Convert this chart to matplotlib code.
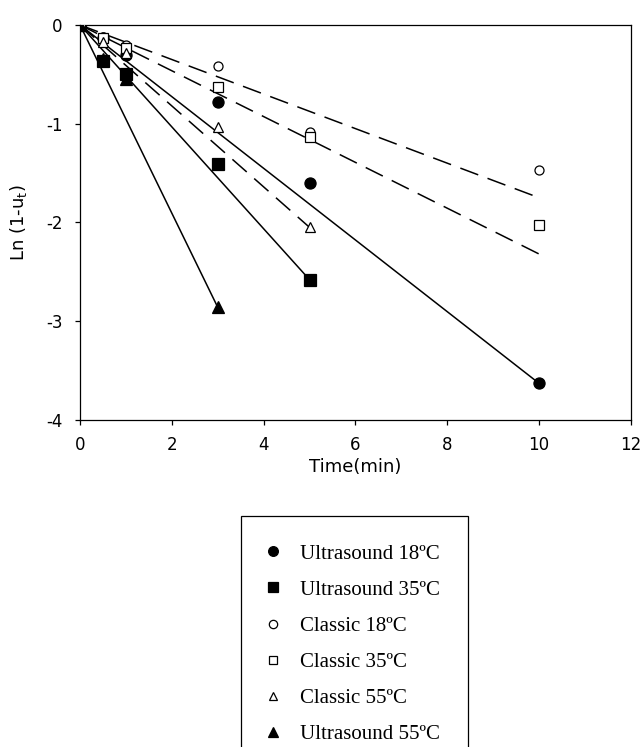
import matplotlib.pyplot as plt
from matplotlib.lines import Line2D
import numpy as np

plt.rcParams['axes.unicode_minus'] = False

# measured points (time in min, Ln(1-ut))
t_us18 = [0, 0.5, 1, 3, 5, 10]
y_us18 = [0, -0.13, -0.30, -0.78, -1.60, -3.63]
t_us35 = [0, 0.5, 1, 3, 5]
y_us35 = [0, -0.37, -0.50, -1.41, -2.58]
t_us55 = [0, 0.5, 1, 3]
y_us55 = [0, -0.34, -0.55, -2.86]
t_cl18 = [0, 0.5, 1, 3, 5, 10]
y_cl18 = [0, -0.12, -0.20, -0.42, -1.08, -1.47]
t_cl35 = [0, 0.5, 1, 3, 5, 10]
y_cl35 = [0, -0.13, -0.23, -0.63, -1.13, -2.03]
t_cl55 = [0, 0.5, 1, 3, 5]
y_cl55 = [0, -0.17, -0.28, -1.03, -2.05]

# fitted slopes (lines start at the origin)
fit_slope = {'us18': -0.363, 'us35': -0.516, 'us55': -0.953,
             'cl18': -0.175, 'cl35': -0.232, 'cl55': -0.41}
fit_end = {'us18': 10, 'us35': 5, 'us55': 3, 'cl18': 10, 'cl35': 10, 'cl55': 5}

dash = (0, (12.5, 6.5))
series = [
    ('Ultrasound 18ºC', 'us18', t_us18, y_us18, 'o', 'k', '-'),
    ('Ultrasound 35ºC', 'us35', t_us35, y_us35, 's', 'k', '-'),
    ('Classic 18ºC', 'cl18', t_cl18, y_cl18, 'o', 'w', dash),
    ('Classic 35ºC', 'cl35', t_cl35, y_cl35, 's', 'w', dash),
    ('Classic 55ºC', 'cl55', t_cl55, y_cl55, '^', 'w', dash),
    ('Ultrasound 55ºC', 'us55', t_us55, y_us55, '^', 'k', '-'),
]

fig = plt.figure(figsize=(6.41, 7.47), dpi=100)
ax = fig.add_axes([0.1248, 0.4378, 0.8596, 0.5288])

handles = []
for label, key, t, y, m, fc, ls in series:
    xe = np.array([0, fit_end[key]])
    ax.plot(xe, fit_slope[key] * xe, color='k', lw=1.1, ls=ls, zorder=2)
    ms = 8 if fc == 'k' else 6.5
    ax.plot(t, y, ls='none', marker=m, ms=ms, mfc=fc, mec='k', mew=0.9, zorder=3)
    lms = 7 if fc == 'k' else 6
    handles.append(Line2D([], [], ls='none', marker=m, ms=lms, mfc=fc, mec='k', mew=0.9, label=label))

ax.set_xlim(0, 12)
ax.set_ylim(-4, 0)
ax.set_xticks([0, 2, 4, 6, 8, 10, 12])
ax.set_yticks([0, -1, -2, -3, -4])
ax.tick_params(direction='out', length=3.5, width=0.9, labelsize=12, top=False, right=False)
ax.tick_params(axis='x', pad=8)
ax.tick_params(axis='y', pad=9)
for s in ax.spines.values():
    s.set_linewidth(0.9)
ax.set_xlabel('Time(min)', fontsize=13, labelpad=3)
ax.set_ylabel(r'Ln (1-u$_{\rm t}$)', fontsize=13, labelpad=12)

leg = fig.legend(handles=handles, loc='upper left', bbox_to_anchor=(241/641, 1 - 516/747),
                 frameon=True, fancybox=False, edgecolor='k', framealpha=1,
                 prop={'family': 'Liberation Serif', 'size': 15},
                 handletextpad=1.12, labelspacing=0.79, borderpad=1.35, handlelength=0.37,
                 borderaxespad=0)
leg.get_frame().set_linewidth(0.9)

fig.savefig('out.png', dpi=100)
